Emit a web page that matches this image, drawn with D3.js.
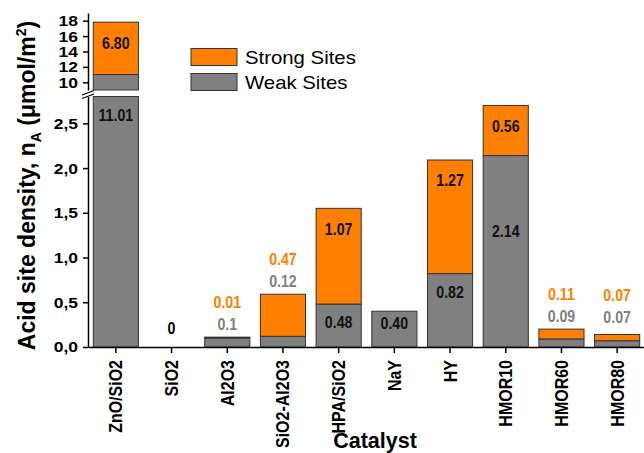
<!DOCTYPE html>
<html>
<head>
<meta charset="utf-8">
<script src="https://cdn.jsdelivr.net/npm/d3@7"></script>
<style>
  html, body { margin: 0; padding: 0; background: #fff; }
  svg { display: block; font-family: "Liberation Sans", Arial, sans-serif; }
</style>
</head>
<body>
<svg id="chart" width="644" height="453"></svg>
<script>
// Acid site density per catalyst, split into weak and strong sites (µmol/m²)
const categories = ["ZnO/SiO2", "SiO2", "Al2O3", "SiO2-Al2O3", "HPA/SiO2", "NaY", "HY", "HMOR10", "HMOR60", "HMOR80"];
const weakSites = [11.01, 0, 0.1, 0.12, 0.48, 0.40, 0.82, 2.14, 0.09, 0.07];
const strongSites = [6.80, 0, 0.01, 0.47, 1.07, 0, 1.27, 0.56, 0.11, 0.07];
const weakLabels = ["11.01", "0", "0.1", "0.12", "0.48", "0.40", "0.82", "2.14", "0.09", "0.07"];
const strongLabels = ["6.80", "", "0.01", "0.47", "1.07", "", "1.27", "0.56", "0.11", "0.07"];
const lowerTicks = [0, 0.5, 1.0, 1.5, 2.0, 2.5];
const upperTicks = [10, 12, 14, 16, 18];
const seriesNames = ["Strong Sites", "Weak Sites"];

const ORANGE = "#FF8000", GREY = "#808080", EDGE = "#333";
const FONT = "'Liberation Sans', Arial, sans-serif";

const svg = d3.select("#chart");

const x = d3.scaleBand().domain(categories).range([88, 645]).paddingInner(0.19).paddingOuter(0.095);
// broken value axis: lower and upper panels
const yLow = d3.scaleLinear().domain([0, 2.8]).range([347, 96.5]);
const yUp = d3.scaleLinear().domain([9, 19]).range([90, 13]);
const panels = [yLow, yUp];

const rows = categories.map((c, i) => ({
  cat: c, weak: weakSites[i], strong: strongSites[i],
  wl: weakLabels[i], sl: strongLabels[i]
}));

// stacked bar segments, clipped to each panel's domain
panels.forEach(y => {
  const [d0, d1] = y.domain();
  const g = svg.append("g");
  rows.forEach(r => {
    const segs = [
      { lo: 0, hi: r.weak, fill: GREY },
      { lo: r.weak, hi: r.weak + r.strong, fill: ORANGE }
    ];
    segs.forEach(s => {
      const lo = Math.max(s.lo, d0), hi = Math.min(s.hi, d1);
      if (hi <= lo) return;
      g.append("rect")
        .attr("x", x(r.cat))
        .attr("width", x.bandwidth())
        .attr("y", y(hi))
        .attr("height", y(lo) - y(hi))
        .attr("fill", s.fill)
        .attr("stroke", EDGE)
        .attr("stroke-width", 1);
    });
  });
});

const comma = d => d3.format(".1f")(d).replace(".", ",");
const TICK_SX = 1.13;

function styleAxis(g) {
  g.attr("font-family", FONT);
  g.selectAll(".domain").attr("stroke", "#000").attr("stroke-width", 1.5);
  g.selectAll(".tick line").attr("stroke", "#000").attr("stroke-width", 1.5);
}

// y axes
const yAxisLow = svg.append("g").attr("transform", "translate(88,0)")
  .call(d3.axisLeft(yLow).tickValues(lowerTicks).tickFormat(comma).tickSize(5).tickSizeOuter(0));
const yAxisUp = svg.append("g").attr("transform", "translate(88,0)")
  .call(d3.axisLeft(yUp).tickValues(upperTicks).tickFormat(d3.format("d")).tickSize(5).tickSizeOuter(0));
[yAxisLow, yAxisUp].forEach(g => {
  styleAxis(g);
  g.selectAll(".tick text")
    .attr("x", -10 / TICK_SX)
    .attr("transform", `scale(${TICK_SX},1)`)
    .attr("font-size", 15.5)
    .attr("font-weight", "bold")
    .attr("fill", "#000");
});

// axis break marks
const brk = svg.append("g").attr("stroke", "#000").attr("stroke-width", 1.3);
[0, 3.5].forEach(o => {
  brk.append("line").attr("x1", 82).attr("y1", 95 + o).attr("x2", 94).attr("y2", 90.5 + o);
});

// x axis
const xAxis = svg.append("g").attr("transform", "translate(0,347)")
  .call(d3.axisBottom(x).tickSize(6).tickSizeOuter(0));
styleAxis(xAxis);
xAxis.selectAll(".tick text")
  .attr("transform", `rotate(-90) scale(1,${TICK_SX})`)
  .attr("x", -13)
  .attr("y", 0)
  .attr("dy", "0.36em")
  .attr("text-anchor", "end")
  .attr("font-size", 16)
  .attr("font-weight", "bold")
  .attr("fill", "#000");

// value labels
const VAL_SX = 0.87;
const labels = svg.append("g")
  .attr("font-size", 16.3)
  .attr("font-weight", "bold")
  .attr("text-anchor", "middle");

function valueLabel(cx, cy, text, color) {
  labels.append("text")
    .attr("transform", `translate(${cx},${cy}) scale(${VAL_SX},1)`)
    .attr("dy", "0.36em")
    .attr("fill", color)
    .text(text);
}

// per-label shifts (px) for labels set away from the usual spot
const labelShift = { "NaY-weak": -7, "HMOR10-weak": 57, "HMOR80-out": -4 };
const INSIDE = 18.5;

rows.forEach(r => {
  const cx = x(r.cat) + x.bandwidth() / 2;
  const total = r.weak + r.strong;
  if (total === 0) {
    valueLabel(cx, yLow(0) - 19, r.wl, "#000");
    return;
  }
  if (r.weak < 0.2) {
    // small bars: labels stacked above the bar
    const top = yLow(total) + (labelShift[r.cat + "-out"] || 0);
    valueLabel(cx, top - 13, r.wl, GREY);
    if (r.sl) valueLabel(cx, top - 35, r.sl, ORANGE);
    return;
  }
  // weak segment label (lower panel, top clipped at panel edge)
  const weakTop = yLow(Math.min(r.weak, yLow.domain()[1]));
  valueLabel(cx, weakTop + INSIDE + (labelShift[r.cat + "-weak"] || 0), r.wl, "#111");
  if (r.sl) {
    const y = total > yLow.domain()[1] ? yUp : yLow;
    valueLabel(cx, y(total) + INSIDE + 2, r.sl, "#111");
  }
});

// axis titles
svg.append("text")
  .attr("x", 375).attr("y", 448)
  .attr("text-anchor", "middle")
  .attr("font-size", 21.5)
  .attr("font-weight", "bold")
  .text("Catalyst");

const yTitle = svg.append("text")
  .attr("transform", "translate(34.5,185.5) rotate(-90)")
  .attr("text-anchor", "middle")
  .attr("font-size", 23)
  .attr("font-weight", "bold");
yTitle.append("tspan").text("Acid site density, n");
yTitle.append("tspan").attr("font-size", 14).attr("dy", 6).text("A");
yTitle.append("tspan").attr("dy", -6).text(" (\u03BCmol/m");
yTitle.append("tspan").attr("font-size", 14).attr("dy", -9).text("2");
yTitle.append("tspan").attr("dy", 9).text(")");

// legend
const legendColors = [ORANGE, GREY];
const legend = svg.append("g");
seriesNames.forEach((name, i) => {
  const ly = 48.5 + i * 25;
  legend.append("rect")
    .attr("x", 191).attr("y", ly)
    .attr("width", 46).attr("height", 17)
    .attr("fill", legendColors[i])
    .attr("stroke", EDGE).attr("stroke-width", 1);
  legend.append("text")
    .attr("transform", `translate(245,${ly + 15}) scale(1.15,1)`)
    .attr("font-size", 17.7)
    .attr("fill", "#000")
    .text(name);
});
</script>
</body>
</html>
